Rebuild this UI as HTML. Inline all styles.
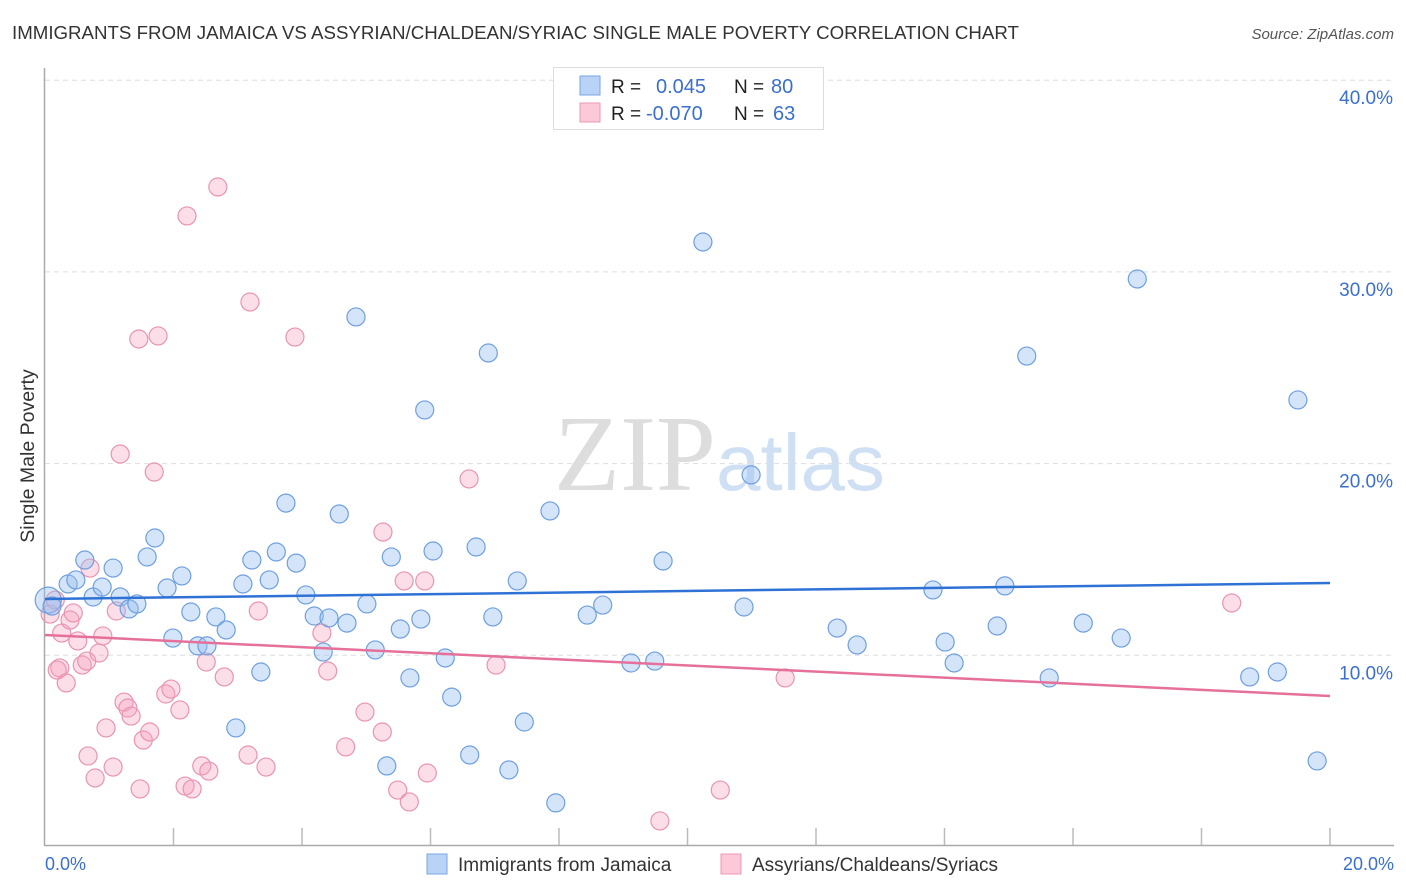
<!DOCTYPE html>
<html><head><meta charset="utf-8"><style>
body{margin:0;background:#fff;font-family:"Liberation Sans",sans-serif}
svg{display:block}
</style></head><body>
<svg id="chart" width="1406" height="892" xmlns="http://www.w3.org/2000/svg">
<text x="12" y="39" font-size="18.7" fill="#333">IMMIGRANTS FROM JAMAICA VS ASSYRIAN/CHALDEAN/SYRIAC SINGLE MALE POVERTY CORRELATION CHART</text>
<text x="1394" y="39" font-size="15" fill="#555" text-anchor="end" font-style="italic">Source: ZipAtlas.com</text>
<text x="716" y="490" font-size="108" text-anchor="end" fill="#ddd" font-family="Liberation Serif, serif">ZIP</text>
<text x="716" y="490" font-size="80" fill="#cfe0f5">atlas</text>
<g id="grid"></g>
<line x1="44.5" y1="68" x2="44.5" y2="845" stroke="#aaa" stroke-width="1.5"/>
<line x1="44" y1="845.5" x2="1394" y2="845.5" stroke="#aaa" stroke-width="1.5"/>
<g id="xticks"></g>
<text transform="translate(34,456) rotate(-90)" font-size="19.5" fill="#333" text-anchor="middle">Single Male Poverty</text>
<text x="45" y="870" font-size="18" fill="#3a6fd0">0.0%</text>
<text x="1394" y="870" font-size="18" fill="#3a6fd0" text-anchor="end">20.0%</text>
<g id="pinkpts"></g><g id="bluepts"></g><g id="lines"></g>
<g>
<rect x="553.5" y="67.5" width="270" height="62" fill="#fff" stroke="#ddd"/>
<rect x="580" y="76" width="20" height="19" fill="#b8d3f5" stroke="#7aa6e6"/>
<rect x="580" y="103" width="20" height="19" fill="#fbc9d8" stroke="#ec99b3"/>
<text x="611" y="93" font-size="19" fill="#222">R =</text>
<text x="656" y="93" font-size="20" fill="#3a6fd0">0.045</text>
<text x="734" y="93" font-size="19" fill="#222">N =</text>
<text x="771" y="93" font-size="20" fill="#3a6fd0">80</text>
<text x="611" y="120" font-size="19" fill="#222">R =</text>
<text x="646" y="120" font-size="20" fill="#3a6fd0">-0.070</text>
<text x="734" y="120" font-size="19" fill="#222">N =</text>
<text x="773" y="120" font-size="20" fill="#3a6fd0">63</text>
</g>
<g>
<rect x="427" y="854" width="20" height="20" fill="#b8d3f5" stroke="#7aa6e6"/>
<text x="458" y="871" font-size="19" fill="#333">Immigrants from Jamaica</text></g>
<g>
<rect x="721" y="854" width="20" height="20" fill="#fbc9d8" stroke="#ec99b3"/>
<text x="752" y="871" font-size="19" fill="#333">Assyrians/Chaldeans/Syriacs</text></g>
</svg>
<script>
const blueX=[0.05,0.11,0.36,0.48,0.62,0.75,0.89,1.06,1.17,1.31,1.43,1.59,1.71,1.90,1.99,2.13,2.27,2.38,2.52,2.66,2.82,2.97,3.08,3.22,3.36,3.49,3.60,3.75,3.91,4.06,4.19,4.33,4.42,4.58,4.70,4.84,5.01,5.14,5.32,5.39,5.53,5.68,5.85,5.91,6.04,6.23,6.33,6.61,6.71,6.90,6.97,7.22,7.35,7.46,7.86,7.95,8.44,8.68,9.12,9.49,9.62,10.24,10.88,10.99,12.33,12.64,13.82,14.01,14.15,14.82,14.94,15.28,15.63,16.16,16.75,17.00,18.75,19.18,19.50,19.80];
const blueY=[12.88,12.57,13.72,13.93,14.97,13.04,13.56,14.55,13.04,12.42,12.68,15.13,16.12,13.51,10.90,14.14,12.26,10.49,10.49,12.00,11.32,6.21,13.72,14.97,9.13,13.93,15.39,17.94,14.81,13.15,12.05,10.17,11.95,17.37,11.68,27.65,12.68,10.28,4.23,15.13,11.37,8.82,11.89,22.80,15.44,9.86,7.82,4.80,15.65,25.77,12.00,4.02,13.88,6.52,17.53,2.30,12.10,12.62,9.60,9.70,14.92,31.56,12.52,19.41,11.42,10.54,13.41,10.69,9.60,11.53,13.62,25.61,8.82,11.68,10.90,29.63,8.87,9.13,23.32,4.49];
const pinkX=[0.08,0.16,0.23,0.19,0.26,0.33,0.39,0.44,0.51,0.58,0.65,0.70,0.78,0.67,0.84,0.90,0.95,1.06,1.11,1.17,1.23,1.29,1.34,1.46,1.48,1.53,1.63,1.70,1.76,1.88,1.96,2.10,2.21,2.18,2.29,2.44,2.51,2.55,2.69,2.79,3.16,3.19,3.32,3.44,3.89,4.31,4.40,4.68,4.98,5.25,5.26,5.49,5.59,5.67,5.91,5.95,6.60,7.02,9.57,10.51,11.52,18.47];
const pinkY=[12.15,12.88,9.34,9.23,11.16,8.56,11.84,12.21,10.75,9.49,9.70,14.55,3.60,4.75,10.12,11.01,6.21,4.17,12.31,20.50,7.56,7.25,6.83,26.50,3.03,5.58,6.00,19.56,26.66,7.98,8.24,7.15,32.92,3.18,3.03,4.23,9.65,3.96,34.43,8.87,4.80,28.43,12.31,4.17,26.60,11.16,9.18,5.22,7.04,6.00,16.43,2.97,13.88,2.35,13.88,3.86,19.20,9.49,1.36,2.97,8.82,12.73];
const blueTrend=[12.94,13.77];
const pinkTrend=[11.06,7.88];
const yTicks=[10,20,30,40];
const yTickLabels=["10.0%","20.0%","30.0%","40.0%"];
const xTicks=[2,4,6,8,10,12,14,16,18,20];
const NS="http://www.w3.org/2000/svg";
const sx=v=>45+v*64.25, sy=v=>847-v*19.17;
function mk(tag,attrs,parent){const e=document.createElementNS(NS,tag);for(const k in attrs)e.setAttribute(k,attrs[k]);document.getElementById(parent).appendChild(e);return e;}
yTicks.forEach((t,i)=>{
 const l=mk('line',{x1:45,x2:1394,y1:sy(t),y2:sy(t),stroke:'#ddd','stroke-dasharray':'5,4'},'grid');
 
 
 const tx=mk('text',{x:1393,y:sy(t)+24,'font-size':19,fill:'#3a6fd0','text-anchor':'end'},'grid');
 tx.textContent=yTickLabels[i];
 
 
});
xTicks.forEach(t=>{
 const l=mk('line',{x1:sx(t),x2:sx(t),y1:828,y2:845,stroke:'#bbb','stroke-width':1.5},'xticks');
 
 
});
pinkX.forEach((x,i)=>{
 const c=mk('circle',{cx:sx(x),cy:sy(pinkY[i]),r:9,fill:'rgba(246,160,190,0.35)',stroke:'#e994b0','stroke-width':1.2},'pinkpts');
 
 
});
blueX.forEach((x,i)=>{
 const c=mk('circle',{cx:sx(x),cy:sy(blueY[i]),r:i===0?13:9,fill:'rgba(150,190,240,0.4)',stroke:'#6f9fe0','stroke-width':1.2},'bluepts');
 
 
});
const bl=mk('line',{x1:sx(0),x2:sx(20),y1:sy(blueTrend[0]),y2:sy(blueTrend[1]),stroke:'#2f72d6','stroke-width':2.5},'lines');


const pl=mk('line',{x1:sx(0),x2:sx(20),y1:sy(pinkTrend[0]),y2:sy(pinkTrend[1]),stroke:'#e5709a','stroke-width':2.5},'lines');


</script>
</body></html>
